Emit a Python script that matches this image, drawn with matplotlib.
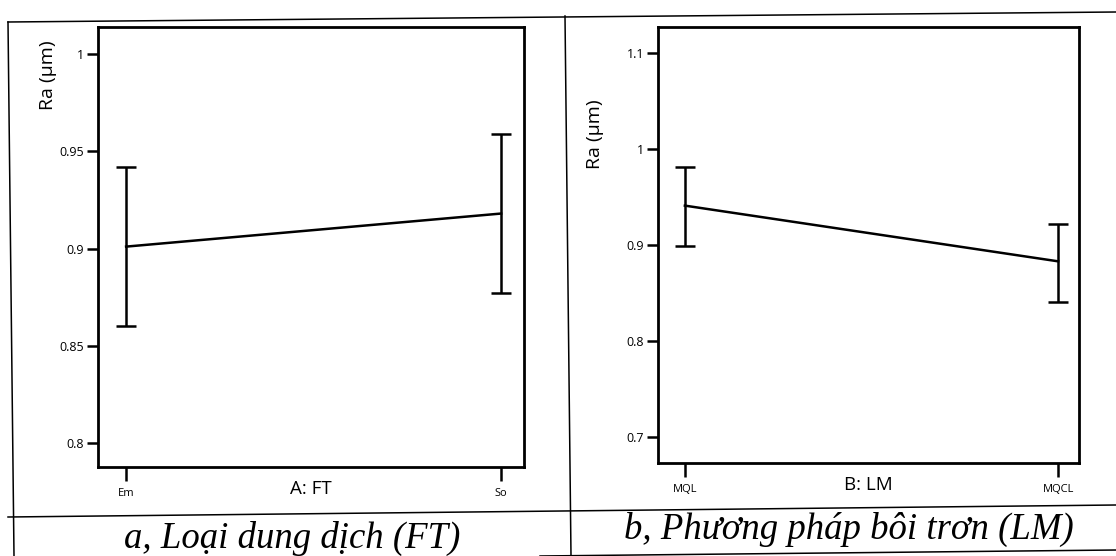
import matplotlib.pyplot as plt
from matplotlib.lines import Line2D

# panel a: fluid type
ft_levels = ['Em', 'So']
ft_mean = [0.901, 0.918]
ft_low = [0.860, 0.877]
ft_high = [0.942, 0.959]
ft_ticks = [0.8, 0.85, 0.9, 0.95, 1.0]
ft_ticklabels = ['0.8', '0.85', '0.9', '0.95', '1']

# panel b: lubrication method
lm_levels = ['MQL', 'MQCL']
lm_mean = [0.941, 0.883]
lm_low = [0.899, 0.841]
lm_high = [0.981, 0.922]
lm_ticks = [0.7, 0.8, 0.9, 1.0, 1.1]
lm_ticklabels = ['0.7', '0.8', '0.9', '1', '1.1']

W, H = 1116, 556
plt.rcParams['font.family'] = ['Open Sans', 'DejaVu Sans']

fig = plt.figure(figsize=(W / 100, H / 100), dpi=100)


def px_axes(l, t, r, b):
    return fig.add_axes([l / W, 1 - b / H, (r - l) / W, (b - t) / H])


def draw_panel(ax, levels, mean, low, high, ticks, ticklabels, xlim, ylim, xlabel, ylab_pos):
    x = list(range(len(levels)))
    err = [[m - lo for m, lo in zip(mean, low)], [hi - m for m, hi in zip(mean, high)]]
    ax.plot(x, mean, color='black', lw=1.8)
    ax.errorbar(x, mean, yerr=err, fmt='none', ecolor='black', elinewidth=1.8,
                capsize=7, capthick=1.8)
    ax.set_xlim(*xlim)
    ax.set_ylim(*ylim)
    ax.set_xticks(x)
    ax.set_xticklabels(levels, fontsize=8)
    ax.set_yticks(ticks)
    ax.set_yticklabels(ticklabels, fontsize=9)
    ax.tick_params(axis='y', direction='out', length=8, width=1.8, pad=2)
    ax.tick_params(axis='x', direction='out', length=10, width=1.8, pad=5)
    for s in ax.spines.values():
        s.set_linewidth(2)
    ax.set_xlabel(xlabel, fontsize=13.5)
    ax.xaxis.set_label_coords(0.5, -0.03)
    ax.set_ylabel('Ra (µm)', fontsize=14)
    ax.yaxis.set_label_coords(*ylab_pos)


ax1 = px_axes(98, 27, 524, 467)
draw_panel(ax1, ft_levels, ft_mean, ft_low, ft_high, ft_ticks, ft_ticklabels,
           (-0.075, 1.061), (0.7877, 1.0139), 'A: FT', (-0.096, 0.89))

ax2 = px_axes(658, 27, 1079, 463)
draw_panel(ax2, lm_levels, lm_mean, lm_low, lm_high, lm_ticks, lm_ticklabels,
           (-0.072, 1.056), (0.673, 1.127), 'B: LM', (-0.128, 0.755))

# table border lines around the two panels
borders = [
    ((8, 22), (1116, 12)),
    ((8, 22), (14, 556)),
    ((565, 16), (571, 556)),
    ((8, 517), (1116, 505)),
    ((540, 556), (1116, 550)),
]
for (x0, y0), (x1, y1) in borders:
    fig.add_artist(Line2D([x0 / W, x1 / W], [1 - y0 / H, 1 - y1 / H],
                          transform=fig.transFigure, color='black', lw=1.1))

cap_font = dict(family='Liberation Serif', style='italic', fontsize=26.5,
                ha='center', va='baseline')
fig.text(292 / W, 1 - 548 / H, 'a, Loại dung dịch (FT)', **cap_font)
fig.text(849 / W, 1 - 539 / H, 'b, Phương pháp bôi trơn (LM)', **cap_font)

fig.savefig('out.png', dpi=100)
